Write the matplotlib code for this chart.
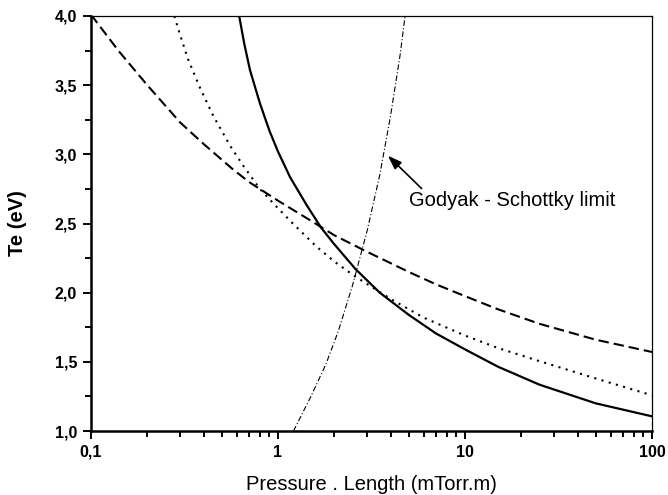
import numpy as np
import matplotlib
matplotlib.use("Agg")
import matplotlib.pyplot as plt
from matplotlib.ticker import FixedLocator, MultipleLocator, LogLocator, NullFormatter

plt.rcParams['font.family'] = ['Liberation Sans', 'DejaVu Sans']

# ======================================
# curve data (pressure.length in mTorr.m, Te in eV)
# ======================================

dash_x = [0.1, 0.14, 0.2, 0.3, 0.4, 0.57, 0.7, 1.0, 1.5, 2.0, 3.0, 5.0, 7.0, 10, 15, 25, 50, 100]
dash_y = [4.01, 3.75, 3.50, 3.23, 3.075, 2.895, 2.80, 2.665, 2.52, 2.415, 2.295, 2.15, 2.06, 1.975, 1.88, 1.775, 1.66, 1.571]

dot_x = [0.279, 0.3, 0.33, 0.38, 0.45, 0.55, 0.65, 0.8, 1.0, 1.2, 1.6, 2.0, 2.6, 4.0, 6.0, 10, 15, 25, 50, 100]
dot_y = [4.0, 3.86, 3.69, 3.49, 3.28, 3.07, 2.92, 2.75, 2.61, 2.50, 2.335, 2.225, 2.115, 1.955, 1.82, 1.69, 1.60, 1.505, 1.38, 1.258]

solid_x = [0.62, 0.66, 0.708, 0.8, 0.9, 1.0, 1.16, 1.42, 1.7, 2.0, 2.6, 3.5, 5.0, 7.0, 10, 15, 25, 50, 100]
solid_y = [4.0, 3.80, 3.61, 3.37, 3.17, 3.02, 2.835, 2.635, 2.47, 2.35, 2.17, 2.00, 1.84, 1.705, 1.59, 1.465, 1.335, 1.20, 1.106]

# Godyak - Schottky limit
gs_x = [1.21, 1.5, 1.8, 2.1, 2.5, 3.0, 3.5, 4.0, 4.5, 4.78]
gs_y = [1.0, 1.25, 1.48, 1.72, 2.05, 2.45, 2.85, 3.28, 3.72, 4.0]

x_ticks = [0.1, 1, 10, 100]
x_ticklabels = ["0,1", "1", "10", "100"]
y_ticks = [1.0, 1.5, 2.0, 2.5, 3.0, 3.5, 4.0]
y_ticklabels = ["1,0", "1,5", "2,0", "2,5", "3,0", "3,5", "4,0"]

# ======================================
# figure
# ======================================

fig = plt.figure(figsize=(6.68, 4.95), dpi=100)
ax = fig.add_axes([91 / 668, 1 - 431 / 495, (652 - 91) / 668, (431 - 16) / 495])

ax.plot(dash_x, dash_y, color="black", lw=1.5, dashes=(5, 2.4))
ax.plot(dot_x, dot_y, color="black", lw=1.5, dashes=(1, 2.6))
ax.plot(solid_x, solid_y, color="black", lw=1.6)
ax.plot(gs_x, gs_y, color="black", lw=0.8, dashes=(5, 2, 1, 2))

ax.set_xscale("log")
ax.set_xlim(0.1, 100)
ax.set_ylim(1.0, 4.0)

ax.xaxis.set_major_locator(FixedLocator(x_ticks))
ax.set_xticklabels(x_ticklabels)
ax.xaxis.set_minor_locator(LogLocator(base=10, subs=np.arange(2, 10)))
ax.xaxis.set_minor_formatter(NullFormatter())

ax.set_yticks(y_ticks)
ax.set_yticklabels(y_ticklabels)
ax.yaxis.set_minor_locator(MultipleLocator(0.25))

ax.tick_params(which="both", direction="out", top=False, right=False,
               width=1.4, labelsize=11.5)
ax.tick_params(which="major", length=6, pad=4)
ax.tick_params(which="minor", length=4)
for lab in ax.get_xticklabels() + ax.get_yticklabels():
    lab.set_fontweight("bold")

ax.spines["left"].set_linewidth(1.8)
ax.spines["bottom"].set_linewidth(1.8)
ax.spines["top"].set_linewidth(0.9)
ax.spines["right"].set_linewidth(0.9)

ax.set_xlabel("Pressure . Length (mTorr.m)", fontsize=14.5)
ax.set_ylabel("Te (eV)", fontsize=14.5, fontweight="bold")
ax.xaxis.set_label_coords(0.5, -0.105)
ax.yaxis.set_label_coords(-0.114, 0.5)

# -------------------------
# annotation
# -------------------------

ax.annotate("", xy=(3.87, 2.99), xytext=(5.86, 2.753),
            arrowprops=dict(arrowstyle="-|>,head_length=0.7,head_width=0.25",
                            color="black", lw=1.2, mutation_scale=12,
                            shrinkA=0, shrinkB=0))
ax.text(5.02, 2.669, "Godyak - Schottky limit", fontsize=14.5,
        ha="left", va="center")

fig.savefig("out.png", dpi=100)
